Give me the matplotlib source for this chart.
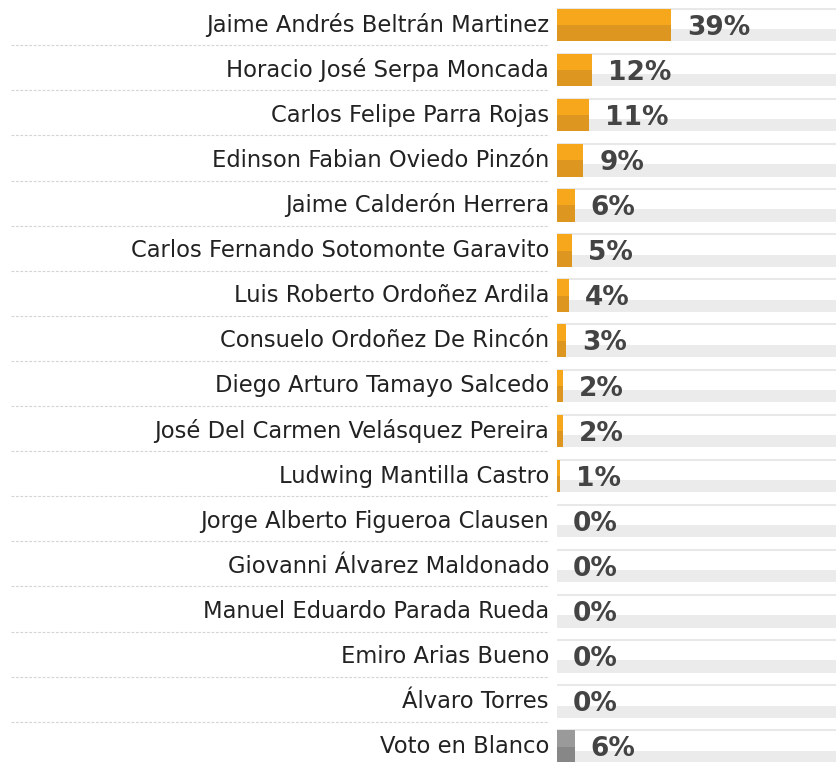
import matplotlib
matplotlib.use("Agg")
import matplotlib.pyplot as plt
import matplotlib.transforms as mtransforms

# Candidates and vote share (%)
candidates = [
    "Jaime Andrés Beltrán Martinez",
    "Horacio José Serpa Moncada",
    "Carlos Felipe Parra Rojas",
    "Edinson Fabian Oviedo Pinzón",
    "Jaime Calderón Herrera",
    "Carlos Fernando Sotomonte Garavito",
    "Luis Roberto Ordoñez Ardila",
    "Consuelo Ordoñez De Rincón",
    "Diego Arturo Tamayo Salcedo",
    "José Del Carmen Velásquez Pereira",
    "Ludwing Mantilla Castro",
    "Jorge Alberto Figueroa Clausen",
    "Giovanni Álvarez Maldonado",
    "Manuel Eduardo Parada Rueda",
    "Emiro Arias Bueno",
    "Álvaro Torres",
    "Voto en Blanco",
]
votes = [39, 12, 11, 9, 6, 5, 4, 3, 2, 2, 1, 0, 0, 0, 0, 0, 6]
labels = [f"{v}%" for v in votes]

W, H = 836, 762
fig = plt.figure(figsize=(W / 100, H / 100), dpi=100)

# axes for bars: x from pixel 557 to right edge
left_px = 557
px_per_pct = 2.93
row_px = 45.1
first_center_px = 25
ax = fig.add_axes([left_px / W, 0, 1 - left_px / W, 1])
ax.set_xlim(0, (W - left_px) / px_per_pct)
ax.set_ylim((H - first_center_px) / row_px, -first_center_px / row_px)
ax.axis("off")

light_orange = "#F6A71C"
dark_orange = "#DD9620"
light_grey = "#9A9A9A"
dark_grey = "#878787"

half = 0.36
for i, (name, v, lab) in enumerate(zip(candidates, votes, labels)):
    is_blank = name == "Voto en Blanco"
    top_c = light_grey if is_blank else light_orange
    bot_c = dark_grey if is_blank else dark_orange

    # background track
    ax.axhspan(i + 0.09, i + half, color="#EBEBEB", lw=0, zorder=0)
    ax.axhline(i - half, color="#E8E8E8", lw=1.5, zorder=0)

    # two-tone bar
    ax.barh(i - half / 2, v, height=half, color=top_c, lw=0, zorder=2, align="center")
    ax.barh(i + half / 2, v, height=half, color=bot_c, lw=0, zorder=2, align="center")

    ax.annotate(lab, xy=(v, i), xytext=(11.5, -2), textcoords="offset points",
                ha="left", va="center", fontsize=19, fontweight="bold",
                color="#444444", zorder=3)

    ax.text(-8 / px_per_pct, i, name, ha="right", va="center", fontsize=16.3,
            color="#222222", clip_on=False)

# dashed separators under the names
trans = mtransforms.blended_transform_factory(fig.transFigure, ax.transData)
for i in range(len(candidates) - 1):
    ax.plot([11 / W, 549 / W], [i + 0.45, i + 0.45], transform=trans,
            color="#D4D4D4", lw=0.8, ls=(0, (2.5, 1.5)), clip_on=False)

fig.savefig("out.png", dpi=100)
